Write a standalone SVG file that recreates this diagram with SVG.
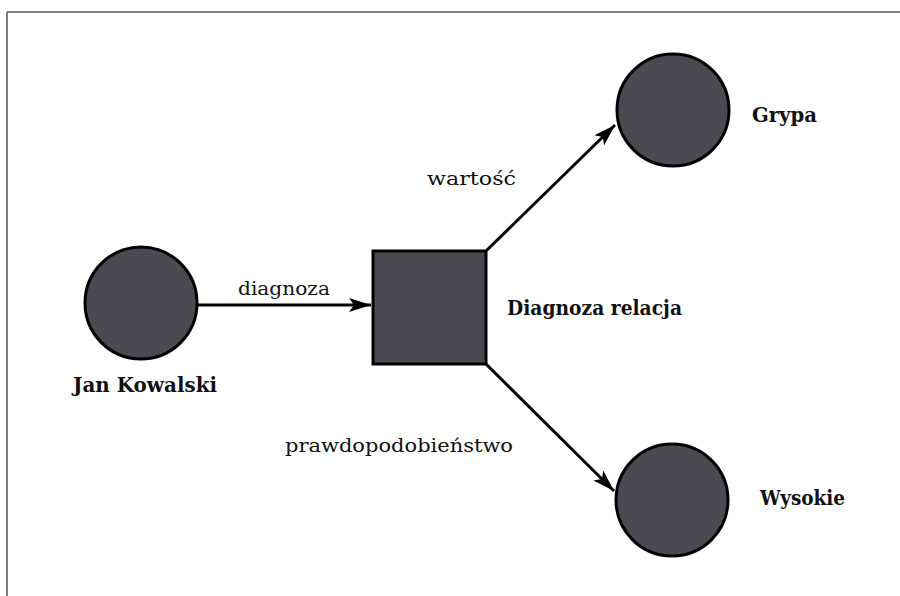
<svg xmlns="http://www.w3.org/2000/svg" width="900" height="596" viewBox="0 0 900 596">
<style>
.node{fill:#4b4a53;stroke:#000;stroke-width:3}
.edge{stroke:#000;stroke-width:3;fill:none}
.lbl{font-family:"DejaVu Serif","Liberation Serif",serif;font-size:19px;fill:#111}
.nl{font-family:"DejaVu Serif","Liberation Serif",serif;font-size:20px;font-weight:bold;fill:#111}
</style>
<defs>
<marker id="arr" markerWidth="24" markerHeight="14" refX="22" refY="7" orient="auto" markerUnits="userSpaceOnUse">
<path d="M0,0 L22,7 L0,14 L5,7 Z" fill="#000"/>
</marker>
</defs>
<rect width="900" height="596" fill="#fff"/>
<g id="frame" stroke="#555" stroke-width="1.5" fill="none">
<line x1="7" y1="12" x2="900" y2="12"/>
<line x1="7" y1="12" x2="7" y2="596"/>
</g>
<g id="connectors">
<line class="edge" x1="198" y1="305" x2="371" y2="305" marker-end="url(#arr)"/>
<line class="edge" x1="486" y1="251" x2="615" y2="125" marker-end="url(#arr)"/>
<line class="edge" x1="486" y1="364" x2="614" y2="491" marker-end="url(#arr)"/>
<text class="lbl" x="238" y="295" textLength="92" lengthAdjust="spacingAndGlyphs">diagnoza</text>
<text class="lbl" x="427" y="185" textLength="89" lengthAdjust="spacingAndGlyphs">wartość</text>
<text class="lbl" x="285" y="452" textLength="228" lengthAdjust="spacingAndGlyphs">prawdopodobieństwo</text>
</g>
<g id="jan">
<circle class="node" cx="141" cy="303" r="56"/>
<text class="nl" x="73" y="392" textLength="144" lengthAdjust="spacingAndGlyphs">Jan Kowalski</text>
</g>
<g id="relacja">
<rect class="node" x="373" y="251" width="113" height="113"/>
<text class="nl" x="507" y="315" textLength="175" lengthAdjust="spacingAndGlyphs">Diagnoza relacja</text>
</g>
<g id="grypa">
<circle class="node" cx="673" cy="110" r="56"/>
<text class="nl" x="752" y="122" textLength="65" lengthAdjust="spacingAndGlyphs">Grypa</text>
</g>
<g id="wysokie">
<circle class="node" cx="672" cy="500" r="56"/>
<text class="nl" x="760" y="505" textLength="85" lengthAdjust="spacingAndGlyphs">Wysokie</text>
</g>
</svg>
